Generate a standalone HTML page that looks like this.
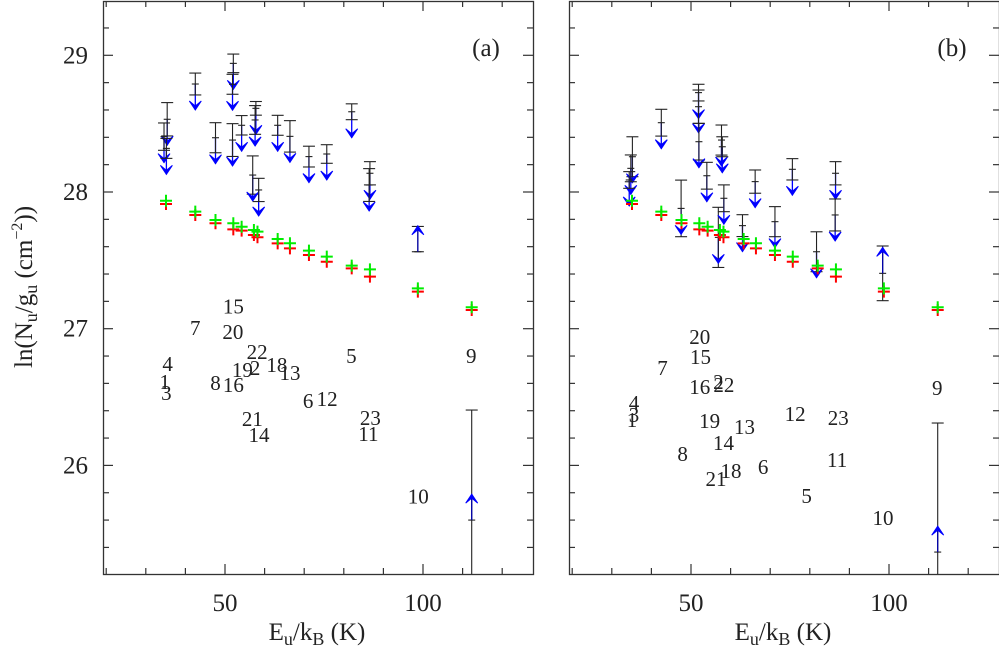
<!DOCTYPE html>
<html><head><meta charset="utf-8"><style>
html,body{margin:0;padding:0;background:#fff;width:999px;height:654px;overflow:hidden;}
svg{display:block;}
svg text{font-family:"Liberation Serif","DejaVu Serif",serif;}
</style></head><body>
<svg id="chart" width="999" height="654" viewBox="0 0 999 654" font-family="Liberation Serif, serif" xmlns="http://www.w3.org/2000/svg"></svg>
<script>
// ---- data ----
const greenX = [35.1,42.5,47.6,52.1,54.2,57.3,58.2,63.3,66.4,71.2,75.7,82.0,86.6,98.7,112.3];
const greenY = [27.936,27.856,27.795,27.771,27.746,27.722,27.710,27.656,27.625,27.571,27.527,27.461,27.434,27.295,27.157];
const redY   = [27.912,27.832,27.771,27.727,27.717,27.685,27.669,27.624,27.588,27.539,27.490,27.441,27.381,27.271,27.137];

const aUpX = [35.4,34.6,35.2,42.5,52.1,51.9,47.6,51.9,54.2,57.8,57.6,57.0,58.5,63.3,66.4,71.2,75.7,82.0,86.6,86.4];
const aUpY = [28.532,28.405,28.319,28.790,28.941,28.788,28.397,28.380,28.488,28.612,28.527,28.124,28.015,28.488,28.407,28.259,28.278,28.587,28.137,28.051];
const aUpE = [0.122,0.10,0.073,0.080,0.068,0.073,0.11,0.12,0.071,0.05,0.105,0.14,0.085,0.073,0.115,0.076,0.068,0.058,0.085,0.12];
const aLoX = [98.7,112.3];
const aLoY = [27.563,25.600];
const aLoEup = [0.185,0.805];
const aLoEdn = [0.0,0.4];

const bUpX = [35.2,34.8,34.4,42.5,51.9,51.9,52.0,47.5,54.0,57.7,57.9,56.9,58.3,63.0,66.2,71.2,75.6,81.7,86.5,86.4];
const bUpY = [28.258,28.173,28.088,28.507,28.727,28.624,28.368,27.880,28.119,28.380,28.331,27.668,27.954,27.754,28.076,27.783,28.166,27.563,28.137,27.832];
const bUpE = [0.146,0.098,0.061,0.098,0.061,0.122,0.134,0.207,0.098,0.11,0.073,0.22,0.098,0.08,0.085,0.11,0.078,0.146,0.085,0.117];
const bLoX = [98.4,112.3];
const bLoY = [27.405,25.366];
const bLoEup = [0.2,0.944];
const bLoEdn = [0.2,0.2];

const labelsA = ["15","7","20","22","4","5","9","19","2","18","13","1","3","8","16","6","12","21","14","23","11","10"];
const labelsAX = [52.1,42.5,52.0,58.1,35.5,81.9,112.2,54.4,57.6,63.1,66.4,34.8,35.2,47.6,52.1,71.0,75.8,56.9,58.6,86.7,86.2,98.8];
const labelsAY = [27.163,27.006,26.976,26.830,26.742,26.800,26.800,26.698,26.713,26.734,26.676,26.610,26.530,26.603,26.588,26.471,26.486,26.339,26.222,26.347,26.230,25.771];
const labelsB = ["20","15","7","16","2","22","4","3","1","19","12","23","13","9","14","8","11","18","6","21","5","10"];
const labelsBX = [52.2,52.4,42.8,52.2,56.9,58.3,35.6,35.6,35.1,54.7,76.3,87.2,63.5,112.2,58.2,47.9,86.9,60.1,68.2,56.3,79.2,98.5];
const labelsBY = [26.939,26.793,26.713,26.574,26.610,26.588,26.456,26.369,26.332,26.325,26.376,26.347,26.281,26.566,26.164,26.083,26.040,25.959,25.988,25.900,25.776,25.615];

const yTickVals = [26,27,28,29];
const xTickVals = [50,100];

const svg = document.getElementById('chart');
const NS = 'http://www.w3.org/2000/svg';
const L = 103, W = 430, T = 1, B = 574;
const FONT = 'Liberation Serif, DejaVu Serif, serif';
function xs(v, off){ return 225 + off + (v - 50) * 3.96; }
function ys(v){ return 192 - (v - 28) * 136.7; }
function mk(tag, attrs, parent){ const e = document.createElementNS(NS, tag); for (const k in attrs) e.setAttribute(k, attrs[k]); if (tag === 'text') e.setAttribute('font-family', FONT); (parent||svg).appendChild(e); return e; }
const ARROW = 0.19;

function chevron(g, x, y, dir){
  const p = mk('path', {d:`M${x-6},${y-9*dir} L${x},${y} L${x+6},${y-9*dir} L${x},${y-4*dir} Z`, fill:'#0000ff', stroke:'#0000ff','stroke-width':1}, g);
  
  
}

function panel(off, name, tag, upX, upY, upE, loX, loY, loEu, loEd, labs, labX, labY){
  const g = mk('g', {});
  
  
  const clipId = 'clip' + off;
  const cp = mk('clipPath', {id: clipId}, g);
  mk('rect', {x: L+off, y: T, width: W, height: B-T}, cp);
  const frame = mk('rect', {x: L+off+0.5, y: T+0.5, width: W, height: B-T, fill:'none', stroke:'#333','stroke-width':1.3}, g);
  
  
  for (let v = 20; v <= 120; v += 10){
    const x = xs(v, off); const len = (v % 50 === 0) ? 10 : 6;
    mk('line', {x1:x, y1:B, x2:x, y2:B-len, stroke:'#333','stroke-width':1.2}, g);
    mk('line', {x1:x, y1:T, x2:x, y2:T+len, stroke:'#333','stroke-width':1.2}, g);
  }
  xTickVals.forEach(v => {
    const t = mk('text', {x: xs(v, off), y: 611, 'font-size': 25, 'text-anchor':'middle', fill:'#222'}, g);
    t.textContent = v;
    
    
  });
  for (let i = 126; i <= 294; i += 2){
    const v = i / 10; const y = ys(v); if (y < T || y > B) continue;
    const len = (i % 10 === 0) ? 10 : 6;
    mk('line', {x1:L+off, y1:y, x2:L+off+len, y2:y, stroke:'#333','stroke-width':1.2}, g);
    mk('line', {x1:L+off+W, y1:y, x2:L+off+W-len, y2:y, stroke:'#333','stroke-width':1.2}, g);
  }
  if (off === 0){
    yTickVals.forEach(v => {
      const t = mk('text', {x: 88, y: ys(v)+8, 'font-size': 25, 'text-anchor':'end', fill:'#222'}, g);
      t.textContent = v;
      
      
    });
  }
  const xt = mk('text', {x: 317+off, y: 640, 'font-size': 25, 'text-anchor':'middle', fill:'#222'}, g);
  xt.innerHTML = 'E<tspan font-size="18" dy="5">u</tspan><tspan dy="-5">/k</tspan><tspan font-size="18" dy="5">B</tspan><tspan dy="-5"> (K)</tspan>';
  
  
  const pl = mk('text', {x: 486+off, y: 56, 'font-size': 25, 'text-anchor':'middle', fill:'#222'}, g);
  pl.textContent = tag;
  
  

  const d = mk('g', {'clip-path': `url(#${clipId})`}, g);
  labs.forEach((s, i) => {
    const t = mk('text', {x: xs(labX[i], off), y: ys(labY[i]) + 7, 'font-size': 21, 'text-anchor':'middle', fill:'#222'}, d);
    t.textContent = s;
    
    
  });
  upX.forEach((xv, i) => {
    const x = xs(xv, off), y = ys(upY[i]), y1 = ys(upY[i] + upE[i]), y2 = ys(upY[i] - upE[i]), yt = ys(upY[i] - ARROW);
    const eg = mk('g', {}, d);
    
    
    mk('line', {x1:x, y1:y, x2:x, y2:yt, stroke:'#0000ff','stroke-width':1.3}, eg);
    mk('line', {x1:x, y1:y1, x2:x, y2:y2, stroke:'#222','stroke-width':1.1}, eg);
    mk('line', {x1:x-6, y1:y1, x2:x+6, y2:y1, stroke:'#222','stroke-width':1.1}, eg);
    mk('line', {x1:x-6, y1:y2, x2:x+6, y2:y2, stroke:'#222','stroke-width':1.1}, eg);
    mk('line', {x1:x-3.5, y1:y, x2:x+3.5, y2:y, stroke:'#222','stroke-width':1.1}, eg);
    chevron(eg, x, yt, 1);
  });
  loX.forEach((xv, i) => {
    const x = xs(xv, off), y = ys(loY[i]), y1 = ys(loY[i] + loEu[i]), y2 = Math.min(B, ys(loY[i] - loEd[i])), yt = ys(loY[i] + ARROW);
    const eg = mk('g', {}, d);
    
    
    mk('line', {x1:x, y1:y1, x2:x, y2:y2, stroke:'#222','stroke-width':1.1}, eg);
    mk('line', {x1:x-6, y1:y1, x2:x+6, y2:y1, stroke:'#222','stroke-width':1.1}, eg);
    if (y2 < B) mk('line', {x1:x-6, y1:y2, x2:x+6, y2:y2, stroke:'#222','stroke-width':1.1}, eg);
    mk('line', {x1:x-3.5, y1:y, x2:x+3.5, y2:y, stroke:'#222','stroke-width':1.1}, eg);
    mk('line', {x1:x, y1:y, x2:x, y2:yt, stroke:'#0000aa','stroke-width':1.3}, eg);
    chevron(eg, x, yt, -1);
  });
  greenX.forEach((xv, i) => {
    const x = xs(xv, off), y = ys(redY[i]);
    const p = mk('path', {d:`M${x-6},${y} H${x+6} M${x},${y-6} V${y+6}`, stroke:'#ff0000','stroke-width':2}, d);
    
    
  });
  greenX.forEach((xv, i) => {
    const x = xs(xv, off), y = ys(greenY[i]);
    const p = mk('path', {d:`M${x-6},${y} H${x+6} M${x},${y-6} V${y+6}`, stroke:'#00ee00','stroke-width':2}, d);
    
    
  });
}

panel(0, 'panel-a', '(a)', aUpX, aUpY, aUpE, aLoX, aLoY, aLoEup, aLoEdn, labelsA, labelsAX, labelsAY);
panel(466, 'panel-b', '(b)', bUpX, bUpY, bUpE, bLoX, bLoY, bLoEup, bLoEdn, labelsB, labelsBX, labelsBY);

const yt = mk('text', {x: 0, y: 0, 'font-size': 25, 'text-anchor':'middle', fill:'#222', transform:'translate(32,287) rotate(-90)'});
yt.innerHTML = 'ln(N<tspan font-size="18" dy="5">u</tspan><tspan dy="-5">/g</tspan><tspan font-size="18" dy="5">u</tspan><tspan dy="-5"> (cm</tspan><tspan font-size="16" dy="-10">−2</tspan><tspan dy="10">))</tspan>';


</script>
</body></html>
